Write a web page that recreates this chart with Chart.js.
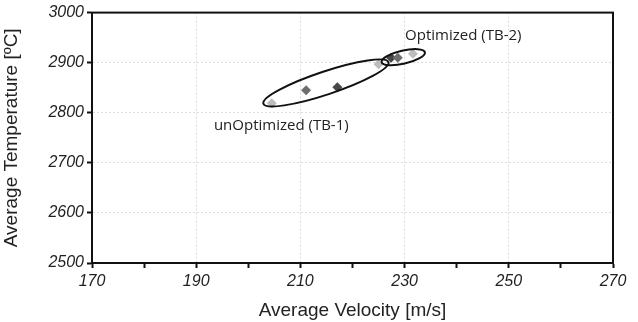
<!DOCTYPE html>
<html>
<head>
<meta charset="utf-8">
<script src="https://cdn.jsdelivr.net/npm/chart.js@4"></script>
<style>
  html, body { margin: 0; padding: 0; background: #fff; }
  #wrap { width: 638px; height: 322px; }
</style>
</head>
<body>
<div id="wrap"><canvas id="chart"></canvas></div>
<script>
// velocity [m/s] / temperature [ºC] per test run, grouped by marker shade
const lightVel = [204.5, 225.0, 231.6];
const lightTemp = [2819, 2897, 2918];
const midVel = [211.1, 228.7];
const midTemp = [2845, 2910];
const darkVel = [217.1, 227.4];
const darkTemp = [2851, 2910];

const xTicks = [170, 190, 210, 230, 250, 270];
const yTicks = [2500, 2600, 2700, 2800, 2900, 3000];

// group outlines: two ends in data units + half thickness in px; label anchor (left, middle)
const groups = [
  { name: 'unOptimized (TB-1)', from: [202.9, 2818], to: [226.9, 2901], half: 11.5, text: [193.4, 2775] },
  { name: 'Optimized (TB-2)', from: [225.6, 2901], to: [233.9, 2921], half: 6.5, text: [230.1, 2954] }
];

const pts = (xs, ys) => xs.map((x, i) => ({ x: x, y: ys[i] }));

const frame = {
  id: 'frame',
  afterDatasetsDraw(chart) {
    const { ctx, chartArea: a, scales: { x, y } } = chart;
    ctx.save();
    ctx.strokeStyle = '#111';
    ctx.lineWidth = 2;
    groups.forEach(g => {
      const x1 = x.getPixelForValue(g.from[0]), y1 = y.getPixelForValue(g.from[1]);
      const x2 = x.getPixelForValue(g.to[0]), y2 = y.getPixelForValue(g.to[1]);
      const rx = Math.hypot(x2 - x1, y2 - y1) / 2;
      const rot = Math.atan2(y2 - y1, x2 - x1);
      ctx.beginPath();
      ctx.ellipse((x1 + x2) / 2, (y1 + y2) / 2, rx, g.half, rot, 0, Math.PI * 2);
      ctx.stroke();
    });
    ctx.fillStyle = '#222';
    ctx.font = '15px "Open Sans"';
    ctx.textBaseline = 'middle';
    groups.forEach(g => {
      ctx.fillText(g.name, x.getPixelForValue(g.text[0]), y.getPixelForValue(g.text[1]));
    });
    ctx.lineWidth = 2;
    ctx.strokeRect(a.left, a.top, a.right - a.left, a.bottom - a.top);
    ctx.restore();
  }
};

new Chart(document.getElementById('chart'), {
  type: 'scatter',
  data: {
    datasets: [
      { data: pts(lightVel, lightTemp), backgroundColor: '#bdbdbd' },
      { data: pts(midVel, midTemp), backgroundColor: '#6e6e6e' },
      { data: pts(darkVel, darkTemp), backgroundColor: '#474747' }
    ].map(d => Object.assign(d, { pointStyle: 'rectRot', pointRadius: 5, borderWidth: 0 }))
  },
  options: {
    responsive: true,
    maintainAspectRatio: false,
    animation: false,
    layout: { padding: { top: 12, right: 25, left: 0, bottom: 0 } },
    plugins: { legend: { display: false }, tooltip: { enabled: false } },
    scales: {
      x: {
        min: 170, max: 270,
        afterFit(s) { s.height = 59; },
        afterBuildTicks(s) {
          s.ticks = [];
          for (let v = xTicks[0]; v <= xTicks[xTicks.length - 1]; v += 10) s.ticks.push({ value: v });
        },
        ticks: {
          color: '#222',
          font: { family: 'Liberation Sans', size: 16, style: 'italic' },
          padding: 4,
          maxRotation: 0,
          autoSkip: false,
          callback: v => xTicks.includes(v) ? String(v) : ''
        },
        grid: {
          color: c => xTicks.includes(c.tick && c.tick.value) ? '#dcdcdc' : 'rgba(0,0,0,0)',
          tickColor: '#111',
          tickLength: 5,
          tickWidth: 2
        },
        border: { color: '#111', width: 2, dash: [2, 2] },
        title: {
          display: true,
          text: 'Average Velocity [m/s]',
          color: '#222',
          font: { family: 'Liberation Sans', size: 19 },
          padding: { top: 2, bottom: 0 }
        }
      },
      y: {
        min: 2500, max: 3000,
        afterFit(s) { s.width = 92; },
        afterBuildTicks(s) { s.ticks = yTicks.map(v => ({ value: v })); },
        ticks: {
          color: '#222',
          font: { family: 'Liberation Sans', size: 16, style: 'italic' },
          padding: 3,
          callback: v => String(v)
        },
        grid: {
          color: '#dcdcdc',
          tickColor: '#111',
          tickLength: 5,
          tickWidth: 2
        },
        border: { color: '#111', width: 2, dash: [2, 2] },
        title: {
          display: true,
          text: 'Average Temperature [ºC]',
          color: '#222',
          font: { family: 'Liberation Sans', size: 19 },
          padding: { top: 0, bottom: 4 }
        }
      }
    }
  },
  plugins: [frame]
});
</script>
</body>
</html>
